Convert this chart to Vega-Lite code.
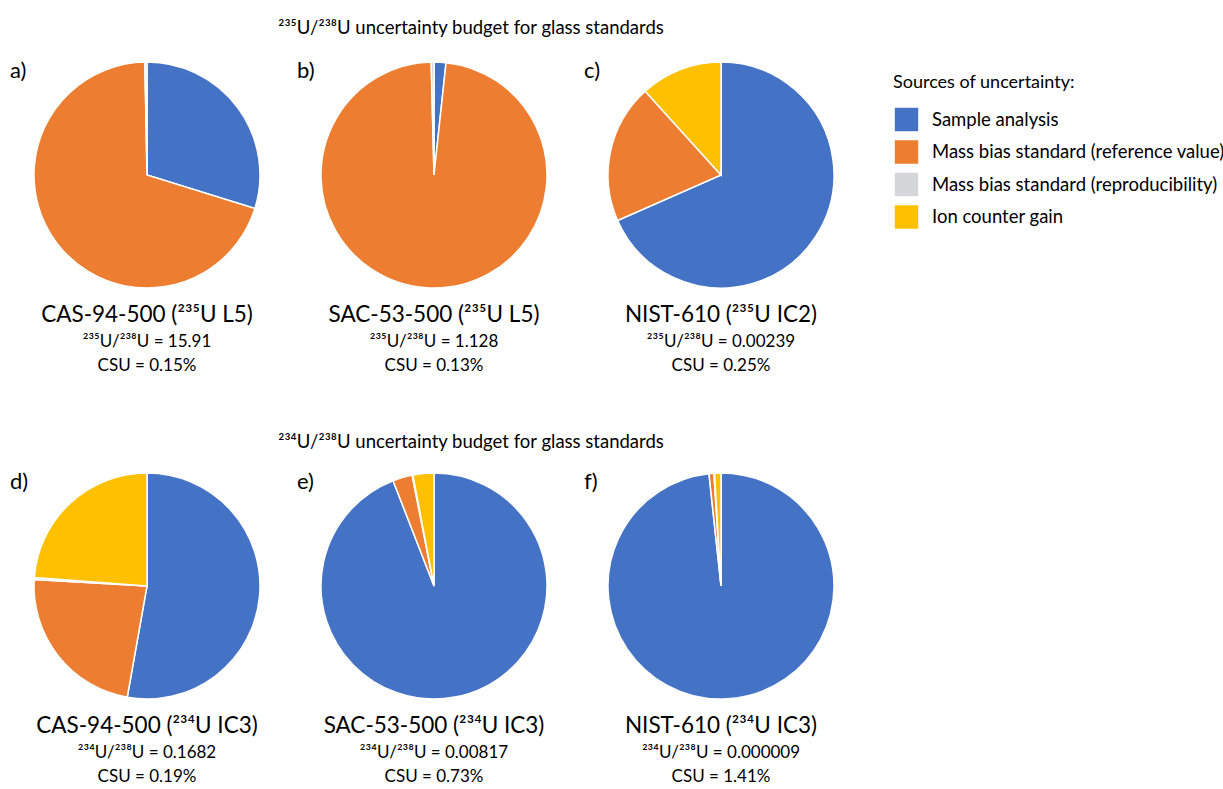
{
  "$schema": "https://vega.github.io/schema/vega-lite/v6.json",
  "background": "white",
  "padding": {"left": 10, "top": 18, "right": 0, "bottom": 0},
  "config": {
    "font": "Lato",
    "view": {"stroke": null},
    "title": {
      "orient": "bottom",
      "anchor": "middle",
      "fontSize": 22.5,
      "fontWeight": "normal",
      "color": "black",
      "subtitleFontSize": 17,
      "subtitleColor": "black",
      "subtitleLineHeight": 24,
      "subtitlePadding": 7,
      "offset": 13,
      "font": "Lato",
      "subtitleFont": "Lato"
    },
    "arc": {"outerRadius": 113, "stroke": "white", "strokeWidth": 1.5}
  },
  "datasets": {
    "pies": [
      {"panel": "a", "source": "Sample analysis", "value": 29.8, "ord": 1},
      {"panel": "a", "source": "Mass bias standard (reference value)", "value": 69.9, "ord": 2},
      {"panel": "a", "source": "Mass bias standard (reproducibility)", "value": 0.3, "ord": 3},
      {"panel": "b", "source": "Sample analysis", "value": 1.7, "ord": 1},
      {"panel": "b", "source": "Mass bias standard (reference value)", "value": 97.9, "ord": 2},
      {"panel": "b", "source": "Mass bias standard (reproducibility)", "value": 0.4, "ord": 3},
      {"panel": "c", "source": "Sample analysis", "value": 68.4, "ord": 1},
      {"panel": "c", "source": "Mass bias standard (reference value)", "value": 19.9, "ord": 2},
      {"panel": "c", "source": "Ion counter gain", "value": 11.7, "ord": 4},
      {"panel": "d", "source": "Sample analysis", "value": 52.8, "ord": 1},
      {"panel": "d", "source": "Mass bias standard (reference value)", "value": 23.1, "ord": 2},
      {"panel": "d", "source": "Mass bias standard (reproducibility)", "value": 0.3, "ord": 3},
      {"panel": "d", "source": "Ion counter gain", "value": 23.8, "ord": 4},
      {"panel": "e", "source": "Sample analysis", "value": 94.1, "ord": 1},
      {"panel": "e", "source": "Mass bias standard (reference value)", "value": 2.8, "ord": 2},
      {"panel": "e", "source": "Mass bias standard (reproducibility)", "value": 0.1, "ord": 3},
      {"panel": "e", "source": "Ion counter gain", "value": 3.0, "ord": 4},
      {"panel": "f", "source": "Sample analysis", "value": 98.3, "ord": 1},
      {"panel": "f", "source": "Mass bias standard (reference value)", "value": 0.7, "ord": 2},
      {"panel": "f", "source": "Mass bias standard (reproducibility)", "value": 0.1, "ord": 3},
      {"panel": "f", "source": "Ion counter gain", "value": 0.9, "ord": 4}
    ]
  },
  "data": {"name": "pies"},
  "spacing": 58,
  "vconcat": [
    {
      "title": {"text": "²³⁵U/²³⁸U uncertainty budget for glass standards", "orient": "top", "fontSize": 18.5, "anchor": "middle", "dx": 37, "offset": 22},
      "spacing": 13,
      "hconcat": [
        {
          "title": {"text": "a)", "orient": "top", "anchor": "start", "offset": -24, "fontSize": 22},
          "vconcat": [{
            "transform": [{"filter": "datum.panel === 'a'"}],
            "title": {"text": "CAS-94-500 (²³⁵U L5)", "subtitle": ["²³⁵U/²³⁸U = 15.91", "CSU = 0.15%"]},
            "width": 274, "height": 226,
            "mark": {"type": "arc"},
            "encoding": {
              "theta": {"field": "value", "type": "quantitative", "stack": true},
              "order": {"field": "ord", "type": "quantitative"},
              "color": {"field": "source", "type": "nominal",
                "scale": {"domain": ["Sample analysis", "Mass bias standard (reference value)", "Mass bias standard (reproducibility)", "Ion counter gain"], "range": ["#4472C4", "#ED7D31", "#D5D6DA", "#FFC000"]},
                "legend": {"title": "Sources of uncertainty:", "orient": "right", "offset": 23, "padding": 12, "symbolType": "square", "symbolSize": 620, "symbolStrokeWidth": 0, "labelFontSize": 18.5, "titleFontSize": 18, "titleFontWeight": "normal", "titleColor": "black", "labelColor": "black", "rowPadding": 1.5, "titlePadding": 14, "labelLimit": 400, "titleLimit": 400, "labelOffset": 12, "titleFont": "Lato", "labelFont": "Lato"}}
            }
          }]
        },
        {
          "title": {"text": "b)", "orient": "top", "anchor": "start", "offset": -24, "fontSize": 22},
          "vconcat": [{
            "transform": [{"filter": "datum.panel === 'b'"}],
            "title": {"text": "SAC-53-500 (²³⁵U L5)", "subtitle": ["²³⁵U/²³⁸U = 1.128", "CSU = 0.13%"]},
            "width": 274, "height": 226,
            "mark": {"type": "arc"},
            "encoding": {
              "theta": {"field": "value", "type": "quantitative", "stack": true},
              "order": {"field": "ord", "type": "quantitative"},
              "color": {"field": "source", "type": "nominal"}
            }
          }]
        },
        {
          "title": {"text": "c)", "orient": "top", "anchor": "start", "offset": -24, "fontSize": 22},
          "vconcat": [{
            "transform": [{"filter": "datum.panel === 'c'"}],
            "title": {"text": "NIST-610 (²³⁵U IC2)", "subtitle": ["²³⁵U/²³⁸U = 0.00239", "CSU = 0.25%"]},
            "width": 274, "height": 226,
            "mark": {"type": "arc"},
            "encoding": {
              "theta": {"field": "value", "type": "quantitative", "stack": true},
              "order": {"field": "ord", "type": "quantitative"},
              "color": {"field": "source", "type": "nominal"}
            }
          }]
        }
      ]
    },
    {
      "title": {"text": "²³⁴U/²³⁸U uncertainty budget for glass standards", "orient": "top", "fontSize": 18.5, "anchor": "middle", "dx": 37, "offset": 19},
      "spacing": 13,
      "hconcat": [
        {
          "title": {"text": "d)", "orient": "top", "anchor": "start", "offset": -24, "fontSize": 22},
          "vconcat": [{
            "transform": [{"filter": "datum.panel === 'd'"}],
            "title": {"text": "CAS-94-500 (²³⁴U IC3)", "subtitle": ["²³⁴U/²³⁸U = 0.1682", "CSU = 0.19%"]},
            "width": 274, "height": 226,
            "mark": {"type": "arc"},
            "encoding": {
              "theta": {"field": "value", "type": "quantitative", "stack": true},
              "order": {"field": "ord", "type": "quantitative"},
              "color": {"field": "source", "type": "nominal"}
            }
          }]
        },
        {
          "title": {"text": "e)", "orient": "top", "anchor": "start", "offset": -24, "fontSize": 22},
          "vconcat": [{
            "transform": [{"filter": "datum.panel === 'e'"}],
            "title": {"text": "SAC-53-500 (²³⁴U IC3)", "subtitle": ["²³⁴U/²³⁸U = 0.00817", "CSU = 0.73%"]},
            "width": 274, "height": 226,
            "mark": {"type": "arc"},
            "encoding": {
              "theta": {"field": "value", "type": "quantitative", "stack": true},
              "order": {"field": "ord", "type": "quantitative"},
              "color": {"field": "source", "type": "nominal"}
            }
          }]
        },
        {
          "title": {"text": "f)", "orient": "top", "anchor": "start", "offset": -24, "fontSize": 22},
          "vconcat": [{
            "transform": [{"filter": "datum.panel === 'f'"}],
            "title": {"text": "NIST-610 (²³⁴U IC3)", "subtitle": ["²³⁴U/²³⁸U = 0.000009", "CSU = 1.41%"]},
            "width": 274, "height": 226,
            "mark": {"type": "arc"},
            "encoding": {
              "theta": {"field": "value", "type": "quantitative", "stack": true},
              "order": {"field": "ord", "type": "quantitative"},
              "color": {"field": "source", "type": "nominal"}
            }
          }]
        }
      ]
    }
  ]
}
